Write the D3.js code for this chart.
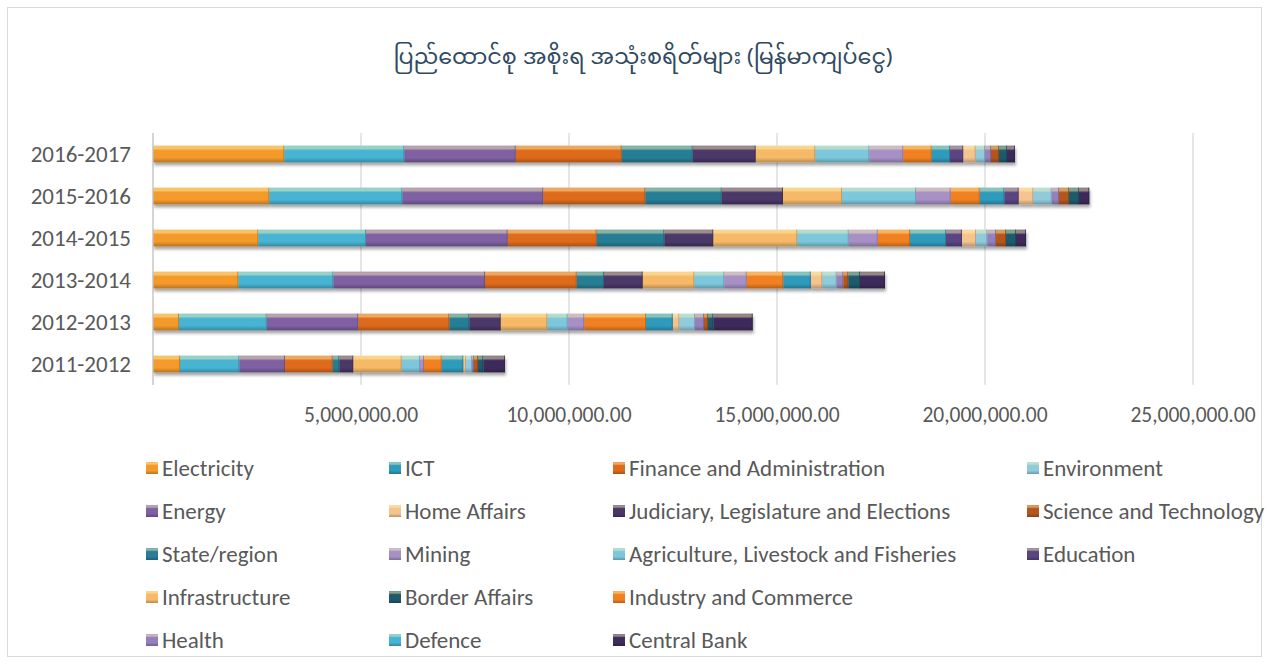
<!DOCTYPE html>
<html>
<head>
<meta charset="utf-8">
<script src="https://cdn.jsdelivr.net/npm/d3@7"></script>
<style>
  html, body { margin: 0; padding: 0; background: #ffffff; }
  svg { display: block; }
  .lbl { font-family: Carlito, Calibri, Lato, "Open Sans", sans-serif; fill: #595959; }
</style>
</head>
<body>
<svg id="chart" width="1269" height="664"></svg>
<script>
// ---------- DATA ----------
const title = "ပြည်ထောင်စု အစိုးရ အသုံးစရိတ်များ (မြန်မာကျပ်ငွေ)";
const years = ["2016-2017", "2015-2016", "2014-2015", "2013-2014", "2012-2013", "2011-2012"];
const tickValues = [5000000, 10000000, 15000000, 20000000, 25000000];
const tickLabels = ["5,000,000.00", "10,000,000.00", "15,000,000.00", "20,000,000.00", "25,000,000.00"];

// series in stacking order (values in millions of kyat, per year in `years` order)
const seriesNames = ["Electricity", "Defence", "Energy", "Finance and Administration", "State/region",
  "Judiciary, Legislature and Elections", "Infrastructure", "Agriculture, Livestock and Fisheries", "Mining",
  "Industry and Commerce", "ICT", "Education", "Home Affairs", "Environment", "Health",
  "Science and Technology", "Border Affairs", "Central Bank"];
const electricity = [3.156, 2.796, 2.531, 2.050, 0.625, 0.649];
const defence     = [2.885, 3.197, 2.589, 2.284, 2.108, 1.426];
const energy      = [2.678, 3.389, 3.406, 3.647, 2.202, 1.098];
const finance     = [2.548, 2.452, 2.140, 2.204, 2.188, 1.147];
const stateRegion = [1.707, 1.837, 1.625, 0.656, 0.480, 0.158];
const judiciary   = [1.514, 1.473, 1.178, 0.931, 0.755, 0.337];
const infrastructure = [1.433, 1.419, 2.019, 1.240, 1.120, 1.163];
const agriculture = [1.298, 1.778, 1.236, 0.721, 0.491, 0.440];
const mining      = [0.817, 0.834, 0.697, 0.539, 0.399, 0.096];
const industry    = [0.683, 0.698, 0.776, 0.879, 1.483, 0.426];
const ict         = [0.440, 0.591, 0.866, 0.659, 0.642, 0.519];
const education   = [0.319, 0.346, 0.384, 0.007, 0.005, 0.005];
const homeAffairs = [0.298, 0.351, 0.337, 0.272, 0.153, 0.060];
const environment = [0.224, 0.442, 0.271, 0.346, 0.378, 0.144];
const health      = [0.144, 0.176, 0.209, 0.159, 0.216, 0.048];
const science     = [0.193, 0.240, 0.241, 0.120, 0.096, 0.096];
const border      = [0.192, 0.241, 0.240, 0.281, 0.128, 0.127];
const centralBank = [0.192, 0.247, 0.241, 0.601, 0.947, 0.522];
const seriesValues = [electricity, defence, energy, finance, stateRegion, judiciary, infrastructure,
  agriculture, mining, industry, ict, education, homeAffairs, environment, health, science, border, centralBank];

// legend layout as in the picture
const legendRows = [
  ["Electricity", "ICT", "Finance and Administration", "Environment"],
  ["Energy", "Home Affairs", "Judiciary, Legislature and Elections", "Science and Technology"],
  ["State/region", "Mining", "Agriculture, Livestock and Fisheries", "Education"],
  ["Infrastructure", "Border Affairs", "Industry and Commerce"],
  ["Health", "Defence", "Central Bank"]
];

const colors = {
  "Electricity": "#F39A2B",
  "Defence": "#46B4D3",
  "Energy": "#7E61A3",
  "Finance and Administration": "#DE6A1C",
  "State/region": "#287E96",
  "Judiciary, Legislature and Elections": "#4A3768",
  "Infrastructure": "#F5B968",
  "Agriculture, Livestock and Fisheries": "#7DC7DC",
  "Mining": "#A690C6",
  "Industry and Commerce": "#F08020",
  "ICT": "#2E9BBD",
  "Education": "#5A4482",
  "Home Affairs": "#F4C48E",
  "Environment": "#8FCBDC",
  "Health": "#9580BE",
  "Science and Technology": "#B4561C",
  "Border Affairs": "#1E5A6C",
  "Central Bank": "#3E2C5C"
};

// ---------- CHART ----------
const svg = d3.select("#chart");
const W = 1269, H = 664;

svg.append("rect").attr("x", 7.5).attr("y", 7.5).attr("width", W - 15).attr("height", H - 15)
  .attr("fill", "#ffffff").attr("stroke", "#d9d9d9").attr("stroke-width", 1);

svg.append("text").attr("x", 643).attr("y", 64).attr("text-anchor", "middle")
  .style("font-family", "'Noto Sans Myanmar', Padauk, 'Myanmar Text', 'Noto Sans', sans-serif")
  .style("font-size", "22.3px").attr("fill", "#2F4A60").text(title);

const x = d3.scaleLinear().domain([0, 25000000]).range([153, 1193]);
const y = d3.scaleBand().domain(years).range([133, 385]).paddingInner(0.6).paddingOuter(0.3);

const defs = svg.append("defs");
const filt = defs.append("filter").attr("id", "shadow").attr("x", "-5%").attr("y", "-50%").attr("width", "110%").attr("height", "250%");
filt.append("feDropShadow").attr("dx", 1).attr("dy", 3).attr("stdDeviation", 1.6)
  .attr("flood-color", "#000").attr("flood-opacity", 0.35);

function gradId(name) { return "g" + seriesNames.indexOf(name); }
seriesNames.forEach(name => {
  const base = d3.color(colors[name]);
  const g = defs.append("linearGradient").attr("id", gradId(name))
    .attr("x1", 0).attr("y1", 0).attr("x2", 0).attr("y2", 1);
  const hi = d3.interpolateRgb(base, "#fff3a0")(0.5);
  g.append("stop").attr("offset", "0%").attr("stop-color", d3.interpolateRgb(base, "#ffffff")(0.35));
  g.append("stop").attr("offset", "16%").attr("stop-color", hi);
  g.append("stop").attr("offset", "30%").attr("stop-color", base.formatHex());
  g.append("stop").attr("offset", "72%").attr("stop-color", base.formatHex());
  g.append("stop").attr("offset", "100%").attr("stop-color", base.darker(0.8).formatHex());
});

svg.append("g").selectAll("line").data(tickValues).join("line")
  .attr("x1", d => x(d)).attr("x2", d => x(d)).attr("y1", 133).attr("y2", 385)
  .attr("stroke", "#d9d9d9").attr("stroke-width", 1.3);

const rows = years.map((yr, i) => {
  const o = { year: yr };
  seriesNames.forEach((n, s) => { o[n] = seriesValues[s][i] * 1e6; });
  return o;
});
const stacked = d3.stack().keys(seriesNames)(rows);

const barG = svg.append("g");
years.forEach((yr, i) => {
  const g = barG.append("g").attr("filter", "url(#shadow)");
  stacked.forEach(layer => {
    const d = layer[i];
    const x0 = x(d[0]), x1 = x(d[1]);
    g.append("rect").attr("x", x0).attr("y", y(yr)).attr("width", Math.max(0, x1 - x0)).attr("height", y.bandwidth())
      .attr("fill", `url(#${gradId(layer.key)})`);
  });
});
years.forEach((yr, i) => {
  stacked.forEach(layer => {
    const d = layer[i];
    const x0 = x(d[0]), x1 = x(d[1]);
    if (x1 - x0 < 1.5) return;
    const y0 = y(yr), bh = y.bandwidth();
    const c = d3.color(colors[layer.key]);
    barG.append("line").attr("x1", x1 - 0.5).attr("x2", x1 - 0.5).attr("y1", y0).attr("y2", y0 + bh)
      .attr("stroke", c.darker(0.8).formatHex()).attr("stroke-width", 1).attr("opacity", 0.7);
  });
});

svg.append("line").attr("x1", 153).attr("x2", 153).attr("y1", 133).attr("y2", 385)
  .attr("stroke", "#bfbfbf").attr("stroke-width", 1.3);

svg.append("g").selectAll("text").data(years).join("text")
  .attr("class", "lbl").attr("x", 131).attr("y", d => y(d) + y.bandwidth() / 2)
  .attr("dy", "0.35em").attr("text-anchor", "end").style("font-size", "23px").text(d => d);

svg.append("g").selectAll("text").data(tickValues).join("text")
  .attr("class", "lbl").attr("x", d => x(d)).attr("y", 414).attr("dy", "0.35em")
  .attr("text-anchor", "middle").style("font-size", "21.5px").text((d, i) => tickLabels[i]);

const colX = [146, 389, 613, 1027];
const rowY = [468, 511, 554, 597, 640];
legendRows.forEach((row, r) => {
  row.forEach((name, c) => {
    const g = svg.append("g").attr("transform", `translate(${colX[c]},${rowY[r]})`);
    g.append("rect").attr("x", 0).attr("y", -6).attr("width", 12).attr("height", 12)
      .attr("fill", `url(#${gradId(name)})`);
    g.append("text").attr("class", "lbl").attr("x", 16).attr("y", 0).attr("dy", "0.35em")
      .style("font-size", "23px").text(name);
  });
});
</script>
</body>
</html>
